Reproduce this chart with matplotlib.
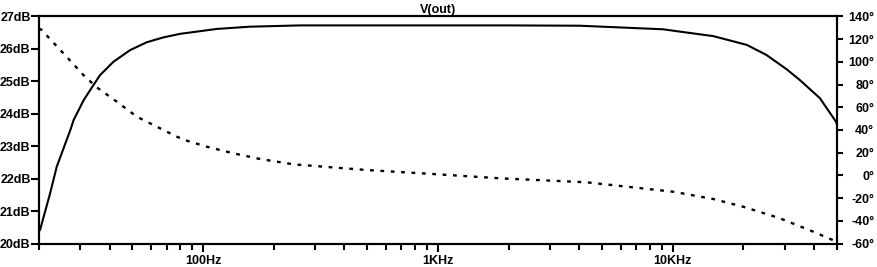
import matplotlib.pyplot as plt
from matplotlib.ticker import FixedLocator, LogLocator, NullFormatter

# Magnitude (solid)
mag_freq = [20, 20.2, 22.3, 23.8, 27.2, 28.1, 31.0, 34.1, 36.4, 41.5, 48.9, 57.5, 67.7, 79.8,
            114, 158, 259, 500, 1000, 2000, 4030, 9120, 10700, 14900, 20700, 25100,
            30600, 34800, 42400, 49600, 50000]
mag_db = [20.40, 20.42, 21.55, 22.37, 23.50, 23.81, 24.42, 24.88, 25.19, 25.60, 25.96, 26.20, 26.35, 26.46,
          26.61, 26.68, 26.72, 26.72, 26.72, 26.72, 26.71, 26.60, 26.53, 26.39, 26.12, 25.81,
          25.37, 25.04, 24.48, 23.76, 23.70]

# Phase (dotted)
ph_freq = [20, 20.5, 25.4, 30.9, 35.2, 42.9, 52.2, 63.5, 77.3, 85.3, 103.7, 134.6, 174.9,
           242.6, 498, 953, 1840, 4300, 10070, 14900, 20000, 28700, 39700, 49100, 50000]
ph_deg = [129.4, 128.0, 107.5, 88.4, 77.6, 64.9, 51.7, 42.9, 34.1, 30.6, 25.3, 19.5, 14.5,
          9.8, 4.8, 1.3, -2.5, -6.0, -14.3, -20.7, -27.5, -37.7, -49.4, -57.6, -59.6]

db_ticks = [20, 21, 22, 23, 24, 25, 26, 27]
deg_ticks = [-60, -40, -20, 0, 20, 40, 60, 80, 100, 120, 140]
x_ticks = [100, 1000, 10000]
x_labels = ['100Hz', '1KHz', '10KHz']

plt.rcParams['font.family'] = ['Liberation Sans', 'DejaVu Sans']
plt.rcParams['font.weight'] = 'bold'
plt.rcParams['font.size'] = 9

fig = plt.figure(figsize=(8.78, 2.67), dpi=100)
ax = fig.add_axes([39/878, 1-243.7/267, (836.7-39)/878, (243.7-16.3)/267])
ax.plot(mag_freq, mag_db, color='k', lw=1.5)
ax.set_xscale('log')
ax.set_xlim(20, 50000)
ax.set_ylim(20, 27)

ax2 = ax.twinx()
ax2.plot(ph_freq, ph_deg, color='k', lw=1.7, linestyle=(0, (1.6, 2.8)))
ax2.set_ylim(-60, 140)

for a in (ax, ax2):
    for s in a.spines.values():
        s.set_linewidth(1.5)

ax.xaxis.set_major_locator(FixedLocator(x_ticks))
ax.set_xticklabels(x_labels)
ax.xaxis.set_minor_locator(LogLocator(base=10, subs=range(2, 10), numticks=20))
ax.xaxis.set_minor_formatter(NullFormatter())
ax.tick_params(axis='x', which='major', length=6, width=1.5, pad=2)
ax.tick_params(axis='x', which='minor', length=4, width=1.5)

ax.yaxis.set_major_locator(FixedLocator(db_ticks))
ax.set_yticklabels([f'{v}dB' for v in db_ticks])
ax.tick_params(axis='y', length=6, width=1.5, pad=0)

ax2.yaxis.set_major_locator(FixedLocator(deg_ticks))
ax2.set_yticklabels([f'{v}°' for v in deg_ticks])
ax2.tick_params(axis='y', length=4.5, width=1.5, pad=22.5)
for lab in ax2.get_yticklabels():
    lab.set_ha('right')

ax.set_title('V(out)', fontsize=9, fontweight='bold', pad=2)

fig.savefig('out.png', dpi=100)
